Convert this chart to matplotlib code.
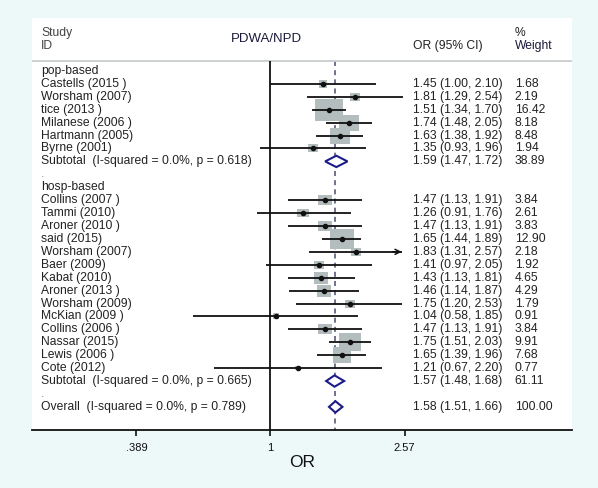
import numpy as np
import matplotlib
matplotlib.use("Agg")
import matplotlib.pyplot as plt
from matplotlib.path import Path
from matplotlib.patches import Polygon

plt.rcParams['font.family'] = ['Liberation Sans', 'DejaVu Sans']

# pop-based studies
pop_names = ["Castells (2015 )", "Worsham (2007)", "tice (2013 )", "Milanese (2006 )",
             "Hartmann (2005)", "Byrne (2001)"]
pop_or = [1.45, 1.81, 1.51, 1.74, 1.63, 1.35]
pop_lo = [1.00, 1.29, 1.34, 1.48, 1.38, 0.93]
pop_hi = [2.10, 2.54, 1.70, 2.05, 1.92, 1.96]
pop_w = [1.68, 2.19, 16.42, 8.18, 8.48, 1.94]
pop_sub = [1.59, 1.47, 1.72, 38.89]
pop_p = "0.618"

# hosp-based studies
hosp_names = ["Collins (2007 )", "Tammi (2010)", "Aroner (2010 )", "said (2015)",
              "Worsham (2007)", "Baer (2009)", "Kabat (2010)", "Aroner (2013 )",
              "Worsham (2009)", "McKian (2009 )", "Collins (2006 )", "Nassar (2015)",
              "Lewis (2006 )", "Cote (2012)"]
hosp_or = [1.47, 1.26, 1.47, 1.65, 1.83, 1.41, 1.43, 1.46, 1.75, 1.04, 1.47, 1.75, 1.65, 1.21]
hosp_lo = [1.13, 0.91, 1.13, 1.44, 1.31, 0.97, 1.13, 1.14, 1.20, 0.58, 1.13, 1.51, 1.39, 0.67]
hosp_hi = [1.91, 1.76, 1.91, 1.89, 2.57, 2.05, 1.81, 1.87, 2.53, 1.85, 1.91, 2.03, 1.96, 2.20]
hosp_w = [3.84, 2.61, 3.83, 12.90, 2.18, 1.92, 4.65, 4.29, 1.79, 0.91, 3.84, 9.91, 7.68, 0.77]
hosp_sub = [1.57, 1.48, 1.68, 61.11]
hosp_p = "0.665"

overall = [1.58, 1.51, 1.66, 100.00]
overall_p = "0.789"

ticks = [0.389, 1, 2.57]
tick_labels = [".389", "1", "2.57"]

txt = '#222222'
fs = 8.7

fig = plt.figure(figsize=(5.98, 4.88), dpi=100)
fig.patch.set_facecolor('#edf8f8')
ax = fig.add_axes([32/598, 58/488, 540/598, 412/488])
ax.set_facecolor('white')
ax.set_xscale('log')
ax.set_xlim(0.1865, 8.36)
ax.set_ylim(27.79, -4.10)
for s in ['top', 'left', 'right']:
    ax.spines[s].set_visible(False)
ax.spines['bottom'].set_linewidth(1.3)
ax.spines['bottom'].set_color('#111111')
ax.set_yticks([])
ax.set_xticks(ticks)
ax.set_xticklabels(tick_labels)
ax.xaxis.set_minor_locator(matplotlib.ticker.NullLocator())
ax.tick_params(axis='x', direction='out', length=4.5, width=1.2, pad=5,
               labelsize=8, colors='#111111')
ax.set_xlabel("OR", fontsize=12.5, labelpad=1, color='#111111')

bt = matplotlib.transforms.blended_transform_factory(ax.transAxes, ax.transData)
xl, xo, xw = 0.0167, 0.7056, 0.894

# header
ax.text(xl, -2.95, "Study", transform=bt, fontsize=fs, color='#444444', va='center')
ax.text(xl, -1.93, "ID", transform=bt, fontsize=fs, color='#444444', va='center')
ax.text(0.3685, -2.5, "PDWA/NPD", transform=bt, fontsize=9.5, color='#1a1a3a', va='center')
ax.text(xo, -1.93, "OR (95% CI)", transform=bt, fontsize=fs, color=txt, va='center')
ax.text(xw, -2.95, "%", transform=bt, fontsize=fs, color=txt, va='center')
ax.text(xw, -1.93, "Weight", transform=bt, fontsize=fs, color='#1a1a3a', va='center')
ax.axhline(-0.81, color='#c9cdcd', lw=1.3)

sep_top = -0.81
ax.vlines(1, sep_top, 27.79, color='#111111', lw=1.3, zorder=2)
ax.vlines(overall[0], sep_top, 27.79, color='#555a78', lw=1.2,
          linestyles=(0, (3, 2.5)), zorder=0.5)

xmax = ticks[-1]
box = Path([(-0.5, -0.4), (0.5, -0.4), (0.5, 0.4), (-0.5, 0.4), (-0.5, -0.4)],
           [Path.MOVETO, Path.LINETO, Path.LINETO, Path.LINETO, Path.CLOSEPOLY])


def draw_diamond(y, vals):
    o, lo, hi, w = vals
    h = 0.44
    ax.add_patch(Polygon([(lo, y), (o, y - h), (hi, y), (o, y + h)], closed=True,
                         facecolor='white', edgecolor='#1c1c8a', lw=1.5, zorder=3))
    ax.text(xo, y, f"{o:.2f} ({lo:.2f}, {hi:.2f})", transform=bt,
            fontsize=fs, color=txt, va='center')
    ax.text(xw, y, f"{w:.2f}", transform=bt, fontsize=fs, color=txt, va='center')


def draw_group(start, title, names, ors, los, his, ws, sub, p):
    ax.text(xl, start, title, transform=bt, fontsize=fs, color=txt, va='center')
    ys = np.arange(start + 1, start + 1 + len(names))
    for y, n, o, lo, hi, w in zip(ys, names, ors, los, his, ws):
        ax.text(xl, y, n, transform=bt, fontsize=fs, color=txt, va='center')
        ax.text(xo, y, f"{o:.2f} ({lo:.2f}, {hi:.2f})", transform=bt,
                fontsize=fs, color=txt, va='center')
        ax.text(xw, y, f"{w:.2f}", transform=bt, fontsize=fs, color=txt, va='center')
        ax.scatter([o], [y], s=(4.93 ** 2) * w, marker=box, color='#b4bdbd',
                   linewidths=0, zorder=1)
        if hi >= xmax:
            ax.hlines(y, lo, xmax * 0.98, color='#111111', lw=1.3, zorder=2)
            ax.annotate("", xy=(xmax, y), xytext=(xmax * 0.9, y),
                        arrowprops=dict(arrowstyle='->', color='#111111', lw=1.1,
                                        mutation_scale=9), zorder=2)
        else:
            ax.hlines(y, lo, hi, color='#111111', lw=1.3, zorder=2)
        ax.plot([o], [y], 'o', color='#111111', ms=3, zorder=3)
    ys_sub = start + 1 + len(names)
    draw_diamond(ys_sub, sub)
    ax.text(xl, ys_sub, f"Subtotal  (I-squared = 0.0%, p = {p})", transform=bt,
            fontsize=fs, color=txt, va='center')
    ax.text(xl, ys_sub + 1, ".", transform=bt, fontsize=fs, color='#888888', va='center')
    return ys_sub


end1 = draw_group(0, "pop-based", pop_names, pop_or, pop_lo, pop_hi, pop_w, pop_sub, pop_p)
end2 = draw_group(end1 + 2, "hosp-based", hosp_names, hosp_or, hosp_lo, hosp_hi, hosp_w,
                  hosp_sub, hosp_p)
yo = end2 + 2
draw_diamond(yo, overall)
ax.text(xl, yo, f"Overall  (I-squared = 0.0%, p = {overall_p})", transform=bt,
        fontsize=fs, color=txt, va='center')

fig.savefig("out.png", dpi=100, facecolor=fig.get_facecolor())
